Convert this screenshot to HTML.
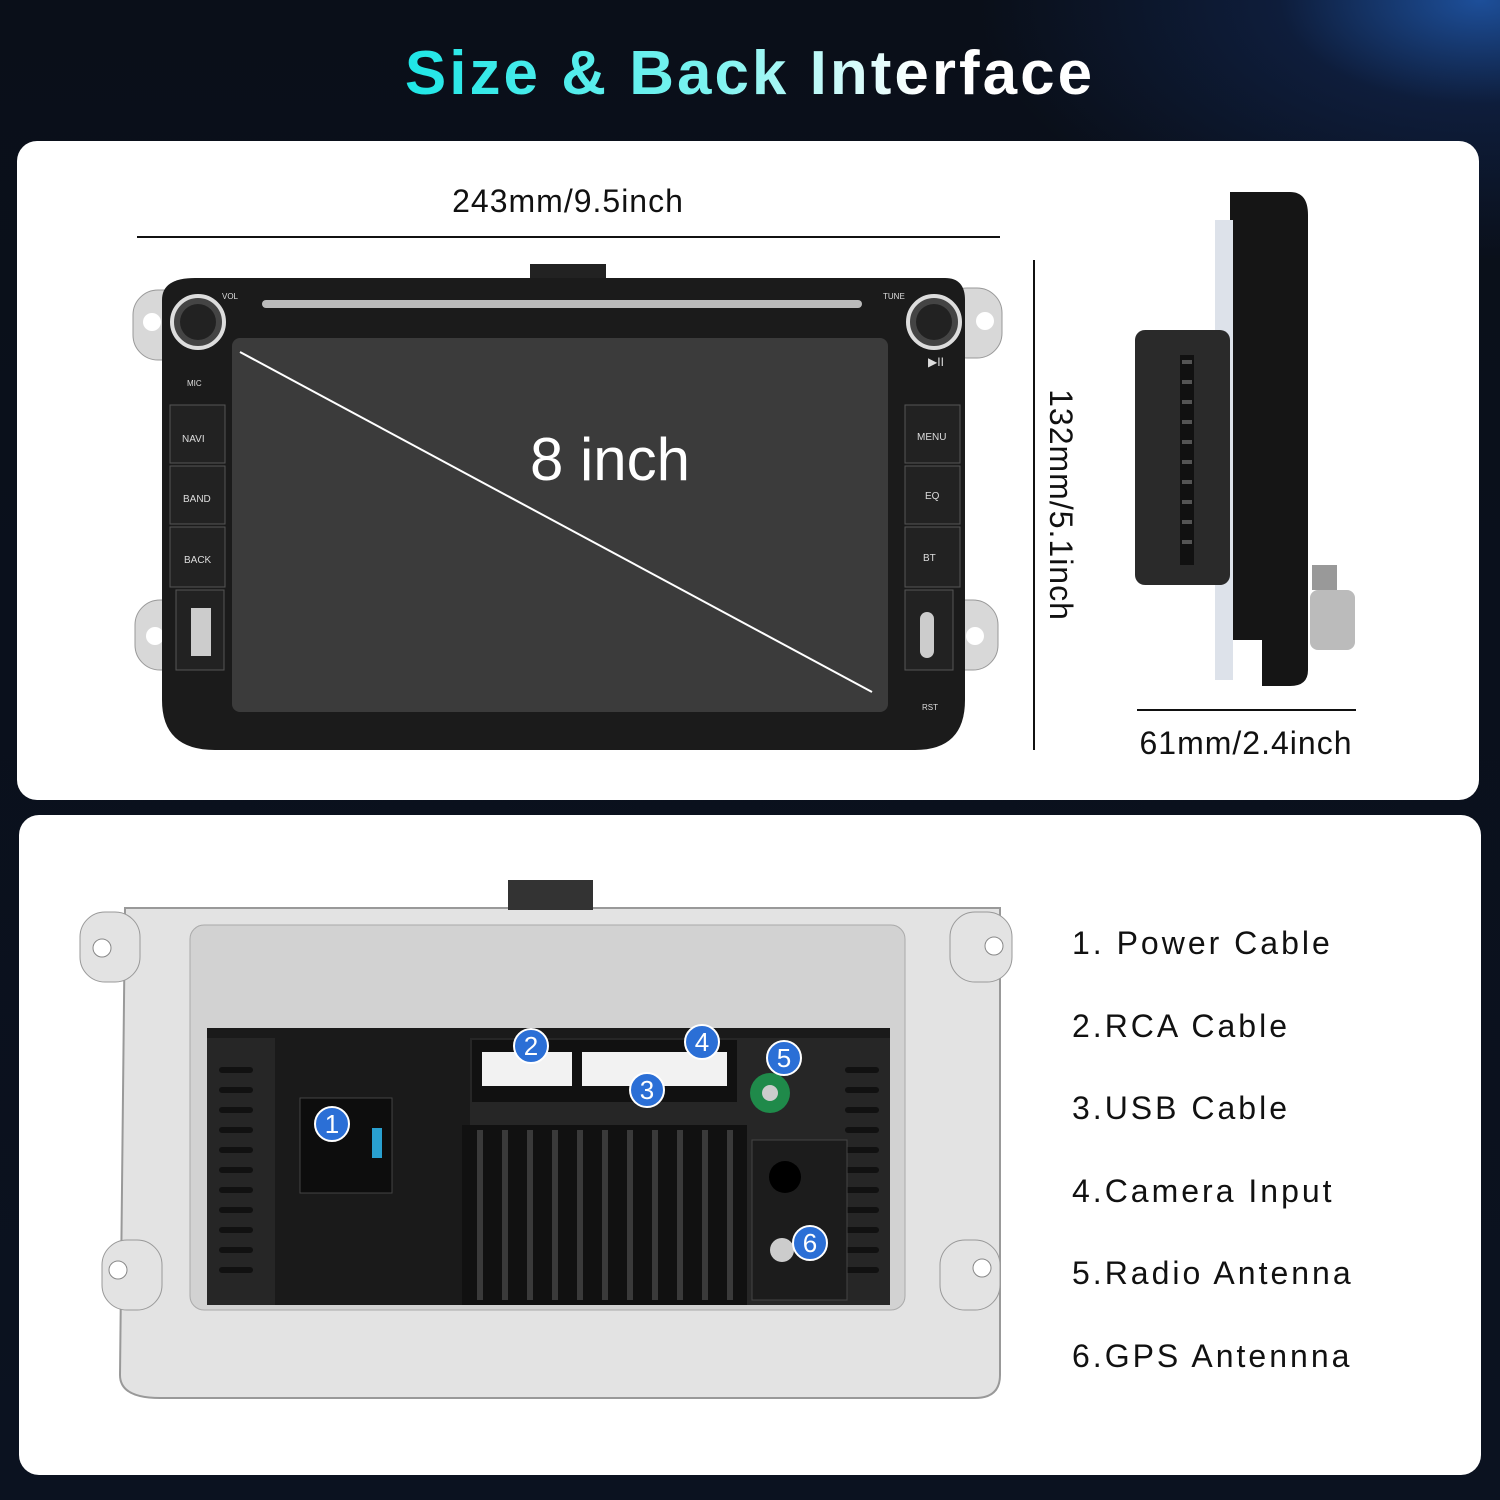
<!DOCTYPE html>
<html><head><meta charset="utf-8"><style>
html,body{margin:0;padding:0;}
body{width:1500px;height:1500px;overflow:hidden;background:radial-gradient(ellipse 500px 260px at 1480px 0px,#1d4f9a 0%,rgba(20,50,110,0.4) 40%,rgba(0,0,0,0) 100%),linear-gradient(#0a0f19,#0b1220);font-family:"Liberation Sans",sans-serif;position:relative;}
.title{position:absolute;top:38px;left:0;width:1500px;text-align:center;font-size:62px;font-weight:bold;letter-spacing:3px;}
.title span{background:linear-gradient(90deg,#1ee6e6,#7ff3f0 45%,#ffffff 75%);-webkit-background-clip:text;background-clip:text;color:transparent;}
.panel{position:absolute;background:#fff;border-radius:20px;}
.lbl{position:absolute;left:1072px;font-size:32px;color:#111;letter-spacing:3px;}
</style></head><body>
<div class="title"><span>Size &amp; Back Interface</span></div>
<div class="panel" style="left:17px;top:141px;width:1462px;height:659px;"></div>
<div class="panel" style="left:19px;top:815px;width:1462px;height:660px;"></div>
<svg width="1500" height="1500" style="position:absolute;left:0;top:0">
<text x="568" y="212" font-size="32" text-anchor="middle" fill="#111" font-family="Liberation Sans" letter-spacing="1">243mm/9.5inch</text>
<line x1="137" y1="237" x2="1000" y2="237" stroke="#111" stroke-width="2"/>
<line x1="1034" y1="260" x2="1034" y2="750" stroke="#111" stroke-width="2"/>
<text transform="translate(1050,505) rotate(90)" font-size="32" text-anchor="middle" fill="#111" font-family="Liberation Sans" letter-spacing="1">132mm/5.1inch</text>
<line x1="1137" y1="710" x2="1356" y2="710" stroke="#111" stroke-width="2"/>
<text x="1246" y="754" font-size="32" text-anchor="middle" fill="#111" font-family="Liberation Sans" letter-spacing="1">61mm/2.4inch</text>
<g fill="#d8d8d8" stroke="#999">
<rect x="133" y="290" width="60" height="70" rx="25"/><rect x="135" y="600" width="60" height="70" rx="25"/>
<rect x="942" y="288" width="60" height="70" rx="25"/><rect x="938" y="600" width="60" height="70" rx="25"/>
</g>
<g fill="#fff"><circle cx="152" cy="322" r="9"/><circle cx="155" cy="636" r="9"/><circle cx="985" cy="321" r="9"/><circle cx="975" cy="636" r="9"/></g>
<rect x="530" y="264" width="76" height="20" fill="#222"/>
<path d="M195 278 H945 Q965 278 965 300 V700 Q965 750 915 750 H215 Q162 750 162 700 V300 Q162 278 195 278Z" fill="#1b1b1b"/>
<rect x="262" y="300" width="600" height="8" rx="4" fill="#bbb"/>
<circle cx="198" cy="322" r="26" fill="#444" stroke="#ddd" stroke-width="4"/><circle cx="198" cy="322" r="18" fill="#222"/>
<circle cx="934" cy="322" r="26" fill="#444" stroke="#ddd" stroke-width="4"/><circle cx="934" cy="322" r="18" fill="#222"/>
<g fill="#222" stroke="#555"><rect x="170" y="405" width="55" height="58"/><rect x="170" y="466" width="55" height="58"/><rect x="170" y="527" width="55" height="60"/><rect x="176" y="590" width="48" height="80"/>
<rect x="905" y="405" width="55" height="58"/><rect x="905" y="466" width="55" height="58"/><rect x="905" y="527" width="55" height="60"/><rect x="905" y="590" width="48" height="80"/></g>
<rect x="191" y="608" width="20" height="48" fill="#ccc"/><rect x="920" y="612" width="14" height="46" rx="7" fill="#ccc"/>
<g fill="#ddd" font-size="10" font-family="Liberation Sans"><text x="182" y="442">NAVI</text><text x="183" y="502">BAND</text><text x="184" y="563">BACK</text><text x="917" y="440">MENU</text><text x="925" y="499">EQ</text><text x="923" y="561">BT</text><text x="222" y="299" font-size="8">VOL</text><text x="883" y="299" font-size="8">TUNE</text><text x="187" y="386" font-size="8">MIC</text><text x="922" y="710" font-size="8">RST</text><text x="928" y="366" font-size="12">▶II</text></g>
<rect x="232" y="338" width="656" height="374" rx="8" fill="#3b3b3b"/>
<line x1="240" y1="352" x2="872" y2="692" stroke="#fff" stroke-width="2"/>
<text x="610" y="480" font-size="60" fill="#fff" text-anchor="middle" font-family="Liberation Sans">8 inch</text>
<path d="M1230 192 H1290 Q1308 192 1308 215 V670 Q1308 686 1290 686 H1262 V640 H1230Z" fill="#151515"/>
<rect x="1215" y="220" width="18" height="460" fill="#dde2ea"/>
<rect x="1135" y="330" width="95" height="255" rx="10" fill="#2a2a2a"/>
<g fill="#111"><rect x="1180" y="355" width="14" height="210"/></g>
<g fill="#555"><rect x="1182" y="360" width="10" height="4"/><rect x="1182" y="380" width="10" height="4"/><rect x="1182" y="400" width="10" height="4"/><rect x="1182" y="420" width="10" height="4"/><rect x="1182" y="440" width="10" height="4"/><rect x="1182" y="460" width="10" height="4"/><rect x="1182" y="480" width="10" height="4"/><rect x="1182" y="500" width="10" height="4"/><rect x="1182" y="520" width="10" height="4"/><rect x="1182" y="540" width="10" height="4"/></g>
<rect x="1310" y="590" width="45" height="60" rx="8" fill="#bbb"/>
<rect x="1312" y="565" width="25" height="25" fill="#999"/>
<path d="M125 908 H1000 V1375 Q1000 1398 975 1398 H160 Q120 1398 120 1375Z" fill="#e3e3e3" stroke="#999" stroke-width="2"/>
<rect x="80" y="912" width="60" height="70" rx="25" fill="#e3e3e3" stroke="#999"/><rect x="102" y="1240" width="60" height="70" rx="25" fill="#e3e3e3" stroke="#999"/>
<rect x="950" y="912" width="62" height="70" rx="25" fill="#e3e3e3" stroke="#999"/><rect x="940" y="1240" width="60" height="70" rx="25" fill="#e3e3e3" stroke="#999"/>
<g fill="#fff" stroke="#888"><circle cx="102" cy="948" r="9"/><circle cx="118" cy="1270" r="9"/><circle cx="994" cy="946" r="9"/><circle cx="982" cy="1268" r="9"/></g>
<rect x="508" y="880" width="85" height="30" fill="#333"/>
<rect x="190" y="925" width="715" height="385" rx="14" fill="#d2d2d2" stroke="#aaa"/>
<rect x="207" y="1028" width="683" height="277" fill="#262626"/>
<rect x="207" y="1028" width="683" height="10" fill="#1a1a1a"/>
<rect x="275" y="1030" width="195" height="275" fill="#1a1a1a"/>
<g fill="#111"><rect x="462" y="1125" width="285" height="180"/></g>
<g stroke="#3a3a3a" stroke-width="6">
<line x1="480" y1="1130" x2="480" y2="1300"/><line x1="505" y1="1130" x2="505" y2="1300"/><line x1="530" y1="1130" x2="530" y2="1300"/><line x1="555" y1="1130" x2="555" y2="1300"/><line x1="580" y1="1130" x2="580" y2="1300"/><line x1="605" y1="1130" x2="605" y2="1300"/><line x1="630" y1="1130" x2="630" y2="1300"/><line x1="655" y1="1130" x2="655" y2="1300"/><line x1="680" y1="1130" x2="680" y2="1300"/><line x1="705" y1="1130" x2="705" y2="1300"/><line x1="730" y1="1130" x2="730" y2="1300"/></g>
<g stroke="#111" stroke-width="6" stroke-linecap="round">
<line x1="222" y1="1070" x2="250" y2="1070"/><line x1="222" y1="1090" x2="250" y2="1090"/><line x1="222" y1="1110" x2="250" y2="1110"/><line x1="222" y1="1130" x2="250" y2="1130"/><line x1="222" y1="1150" x2="250" y2="1150"/><line x1="222" y1="1170" x2="250" y2="1170"/><line x1="222" y1="1190" x2="250" y2="1190"/><line x1="222" y1="1210" x2="250" y2="1210"/><line x1="222" y1="1230" x2="250" y2="1230"/><line x1="222" y1="1250" x2="250" y2="1250"/><line x1="222" y1="1270" x2="250" y2="1270"/>
<line x1="848" y1="1070" x2="876" y2="1070"/><line x1="848" y1="1090" x2="876" y2="1090"/><line x1="848" y1="1110" x2="876" y2="1110"/><line x1="848" y1="1130" x2="876" y2="1130"/><line x1="848" y1="1150" x2="876" y2="1150"/><line x1="848" y1="1170" x2="876" y2="1170"/><line x1="848" y1="1190" x2="876" y2="1190"/><line x1="848" y1="1210" x2="876" y2="1210"/><line x1="848" y1="1230" x2="876" y2="1230"/><line x1="848" y1="1250" x2="876" y2="1250"/><line x1="848" y1="1270" x2="876" y2="1270"/></g>
<rect x="300" y="1098" width="92" height="95" fill="#0d0d0d" stroke="#444"/>
<rect x="372" y="1128" width="10" height="30" fill="#29a0d0"/>
<rect x="472" y="1040" width="265" height="62" fill="#111"/>
<rect x="482" y="1052" width="90" height="34" fill="#f2f2f2"/><rect x="582" y="1052" width="145" height="34" fill="#f2f2f2"/>
<rect x="752" y="1140" width="95" height="160" fill="#1c1c1c" stroke="#444"/>
<circle cx="770" cy="1093" r="20" fill="#1f8a4a"/><circle cx="770" cy="1093" r="8" fill="#ccc"/>
<circle cx="785" cy="1177" r="16" fill="#000"/>
<circle cx="782" cy="1250" r="12" fill="#ccc"/>
<g font-family="Liberation Sans" font-size="26" text-anchor="middle" fill="#fff">
<circle cx="332" cy="1124" r="17" fill="#2b6fd6" stroke="#fff" stroke-width="2"/><text x="332" y="1133">1</text>
<circle cx="531" cy="1046" r="17" fill="#2b6fd6" stroke="#fff" stroke-width="2"/><text x="531" y="1055">2</text>
<circle cx="647" cy="1090" r="17" fill="#2b6fd6" stroke="#fff" stroke-width="2"/><text x="647" y="1099">3</text>
<circle cx="702" cy="1042" r="17" fill="#2b6fd6" stroke="#fff" stroke-width="2"/><text x="702" y="1051">4</text>
<circle cx="784" cy="1058" r="17" fill="#2b6fd6" stroke="#fff" stroke-width="2"/><text x="784" y="1067">5</text>
<circle cx="810" cy="1243" r="17" fill="#2b6fd6" stroke="#fff" stroke-width="2"/><text x="810" y="1252">6</text>
</g>
</svg>
<div class="lbl" style="top:925px">1. Power Cable</div>
<div class="lbl" style="top:1008px">2.RCA Cable</div>
<div class="lbl" style="top:1090px">3.USB Cable</div>
<div class="lbl" style="top:1173px">4.Camera Input</div>
<div class="lbl" style="top:1255px">5.Radio Antenna</div>
<div class="lbl" style="top:1338px">6.GPS Antennna</div>
</body></html>
